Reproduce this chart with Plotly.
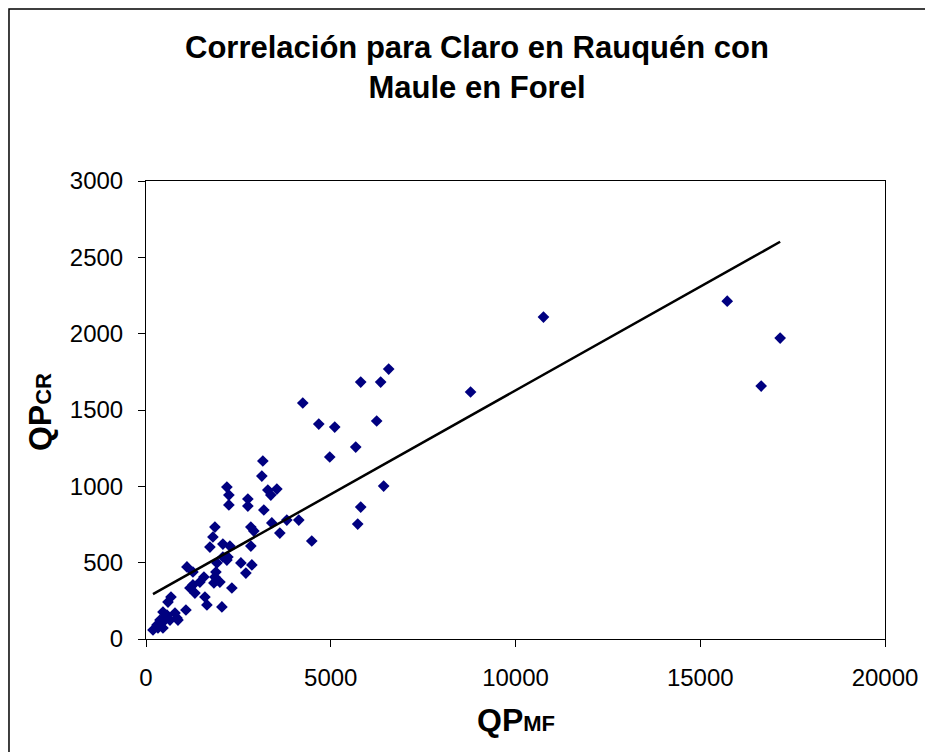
"""Scatter of QP Claro en Rauquén vs QP Maule en Forel with linear trend."""

import plotly.graph_objects as go

# Caudales (m3/s)
QP_MF = [
    10757, 15730, 17162, 16649, 8784, 6568, 5811, 6351, 4243, 4676,
    5108, 6243, 5676, 4973, 3162, 3135, 3297, 3378, 3541, 2757,
    2757, 3189, 6432, 5811, 5730, 2838, 2919, 3405, 3811, 4135,
    3622, 4486, 2838, 2189, 2243, 2243, 1865, 1811, 1730, 2081,
    2270, 2216, 1108, 1270, 1919, 1892, 1865, 2081, 2189, 2568,
    2865, 2703, 1568, 1459, 1270, 1189, 1324, 1838, 1919, 2000,
    2324, 1595, 1649, 2054, 676, 595, 1081, 784, 838, 459,
    568, 514, 649, 378, 432, 297, 189, 324, 459, 865,
]
QP_CR = [
    2109, 2213, 1971, 1657, 1618, 1768, 1683, 1683, 1546, 1408,
    1388, 1428, 1257, 1192, 1166, 1067, 976, 943, 982, 917,
    871, 845, 1002, 864, 753, 733, 707, 760, 779, 779,
    694, 642, 609, 995, 943, 878, 733, 668, 602, 622,
    609, 537, 472, 439, 498, 439, 406, 537, 517, 498,
    485, 432, 406, 373, 354, 334, 301, 367, 386, 373,
    334, 275, 223, 210, 275, 242, 190, 170, 138, 177,
    157, 138, 124, 124, 105, 92, 59, 72, 72, 124,
]

# Linear trend line as drawn on the chart
TREND_SLOPE = 0.136
TREND_INTERCEPT = 268

X_TICKS = [0, 5000, 10000, 15000, 20000]
X_TICK_LABELS = ["0", "5000", "10000", "15000", "20000"]
Y_TICKS = [0, 500, 1000, 1500, 2000, 2500, 3000]
Y_TICK_LABELS = ["0", "500", "1000", "1500", "2000", "2500", "3000"]

FONT = "Liberation Sans, Arial, sans-serif"
NAVY = "#000080"

trend_x = [min(QP_MF), max(QP_MF)]
trend_y = [TREND_SLOPE * v + TREND_INTERCEPT for v in trend_x]

fig = go.Figure()
fig.add_trace(go.Scatter(
    x=QP_MF,
    y=QP_CR,
    mode="markers",
    marker=dict(symbol="diamond", size=9, color=NAVY, line=dict(width=0)),
    showlegend=False,
))
fig.add_trace(go.Scatter(
    x=trend_x,
    y=trend_y,
    mode="lines",
    line=dict(color="black", width=2.5),
    showlegend=False,
))

axis_common = dict(
    showgrid=False,
    zeroline=False,
    showline=True,
    linecolor="black",
    linewidth=1,
    mirror=True,
    ticks="outside",
    ticklen=7,
    tickcolor="black",
    tickfont=dict(family=FONT, size=24, color="black"),
)

# page body adds an 8px offset, so the figure is 8px smaller than the window
fig.update_layout(
    width=925,
    height=744,
    paper_bgcolor="white",
    plot_bgcolor="white",
    margin=dict(l=138, r=48, t=173, b=113),
    xaxis=dict(range=[0, 20000], tickvals=X_TICKS, ticktext=X_TICK_LABELS,
               ticklabelstandoff=10, **axis_common),
    yaxis=dict(range=[0, 3000], tickvals=Y_TICKS, ticktext=Y_TICK_LABELS,
               ticklabelstandoff=10, **axis_common),
    font=dict(family=FONT, color="black"),
)

# title
fig.add_annotation(
    text="<b>Correlación para Claro en Rauquén con<br>Maule en Forel</b>",
    xref="paper", yref="paper", x=0.448, y=1.247,
    xanchor="center", yanchor="middle", showarrow=False,
    font=dict(family=FONT, size=31, color="black"),
)
# axis titles, second letters set smaller
fig.add_annotation(
    text="<b>QP<span style='font-size:22px'>MF</span></b>",
    xref="paper", yref="paper", x=0.5, y=-0.177,
    xanchor="center", yanchor="middle", showarrow=False,
    font=dict(family=FONT, size=32, color="black"),
)
fig.add_annotation(
    text="<b>QP<span style='font-size:22px'>CR</span></b>",
    xref="paper", yref="paper", x=-0.1434, y=0.4956,
    xanchor="center", yanchor="middle", showarrow=False, textangle=-90,
    font=dict(family=FONT, size=32, color="black"),
)

# outer chart border; right and bottom sides fall outside the picture
fig.add_shape(
    type="rect", xref="paper", yref="paper",
    x0=-0.1854, x1=1.09, y0=-0.3, y1=1.3755,
    line=dict(color="black", width=1.5), fillcolor="rgba(0,0,0,0)",
)

fig.write_html("out.html")
